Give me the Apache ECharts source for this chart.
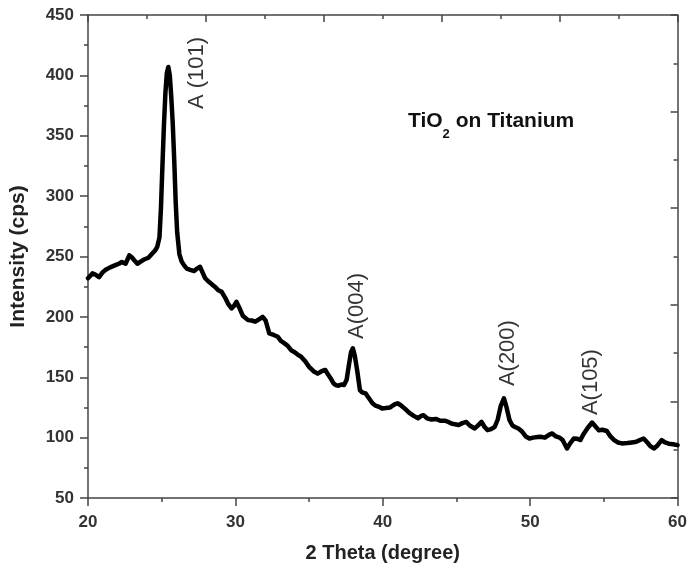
<!DOCTYPE html>
<html>
<head>
<meta charset="utf-8">
<script src="https://cdn.jsdelivr.net/npm/echarts@6/dist/echarts.min.js"></script>
<style>
  html, body { margin: 0; padding: 0; background: #fff; }
  #chart { width: 690px; height: 568px; }
</style>
</head>
<body>
<div id="chart"></div>
<script>
// 2 theta (degree)
var theta = [
  20.0, 20.3, 20.5, 20.75, 21.0, 21.2, 21.5, 21.9, 22.1, 22.3, 22.55, 22.8, 23.0, 23.2, 23.35, 23.6, 23.8, 24.1, 24.36, 24.55,
  24.7, 24.85, 24.95, 25.05, 25.15, 25.25, 25.35, 25.45, 25.55, 25.65, 25.75, 25.85, 25.95, 26.05, 26.2, 26.35, 26.5, 26.7, 26.94, 27.2,
  27.4, 27.6, 27.8, 27.95, 28.2, 28.4, 28.6, 28.85, 29.07, 29.3, 29.5, 29.74, 29.9, 30.07, 30.25, 30.5, 30.86, 31.1, 31.35, 31.6,
  31.85, 32.05, 32.3, 32.6, 32.88, 33.1, 33.33, 33.55, 33.78, 34.0, 34.2, 34.46, 34.75, 35.0, 35.3, 35.58, 35.85, 36.1, 36.3, 36.47,
  36.65, 36.8, 37.0, 37.2, 37.37, 37.55, 37.7, 37.85, 37.97, 38.1, 38.27, 38.45, 38.6, 38.83, 39.1, 39.3, 39.5, 39.75, 39.95, 40.2,
  40.5, 40.8, 41.0, 41.2, 41.5, 41.8, 42.1, 42.4, 42.6, 42.76, 43.0, 43.3, 43.6, 43.9, 44.2, 44.45, 44.66, 44.9, 45.15, 45.4,
  45.67, 45.9, 46.24, 46.45, 46.7, 46.9, 47.1, 47.35, 47.6, 47.8, 48.0, 48.22, 48.4, 48.6, 48.8, 48.94, 49.2, 49.45, 49.7, 49.95,
  50.2, 50.5, 50.7, 51.0, 51.3, 51.5, 51.75, 52.0, 52.2, 52.5, 52.7, 52.97, 53.2, 53.4, 53.65, 53.9, 54.2, 54.45, 54.66, 54.9,
  55.2, 55.45, 55.7, 55.95, 56.23, 56.6, 56.9, 57.2, 57.45, 57.7, 57.95, 58.15, 58.4, 58.6, 58.92, 59.15, 59.4, 59.7, 60.0
];
// Intensity (cps)
var intensity = [
  232, 236, 235, 233, 237, 239, 241, 243, 244, 245.5, 244, 251, 249, 246, 244, 246, 247.5, 249, 252.5, 255,
  258, 266, 290, 325, 358, 385, 402, 407, 400, 382, 360, 330, 295, 270, 252, 246, 243, 240, 239, 238,
  240, 241.5, 236, 232, 229, 227, 225, 222, 220.7, 216, 211, 207, 209, 212.5, 208, 201, 197.3, 197, 196, 198,
  200, 197, 186.3, 185, 183.5, 180, 178, 176, 172.4, 171, 169, 167, 163, 158.6, 155, 153, 155, 156, 152, 149,
  145, 143.5, 143, 144, 143.5, 148, 160, 171, 174, 168, 155, 139.3, 137.5, 136.6, 132, 128.5, 126.5, 125.5, 124.2, 124.5,
  125, 127.5, 128.5, 127, 124, 120.5, 118, 116, 118, 118.6, 116, 115, 115.5, 114, 114, 113, 111.7, 111, 110.5, 112,
  113, 110, 107.6, 110, 113, 109, 106.2, 107, 109, 115, 126, 132.5, 125, 114.5, 110, 109, 107.5, 105, 101, 99.3,
  100, 100.5, 100.7, 100, 102.5, 103.5, 101, 100, 98, 91, 95, 99.3, 99, 98, 103.5, 108, 112.5, 109, 106, 106.5,
  105.5, 101, 98, 96, 95.2, 95.5, 96, 96.5, 98, 99.3, 96, 93, 91, 93, 98, 96, 95, 94.5, 93.8
];

// peak labels: name, 2theta, intensity (label centre)
var peakNames = ['A (101)', 'A(004)', 'A(200)', 'A(105)'];
var peakTheta = [27.4, 38.25, 48.5, 54.1];
var peakY = [402, 209, 170, 146];

var lineData = [];
for (var i = 0; i < theta.length; i++) {
  lineData.push([theta[i], intensity[i]]);
}
var peakData = [];
for (var j = 0; j < peakNames.length; j++) {
  peakData.push({ name: peakNames[j], value: [peakTheta[j], peakY[j]] });
}

var axisColor = '#444';
var font = 'Liberation Sans, Arial, sans-serif';

var chart = echarts.init(document.getElementById('chart'));
var option = {
  animation: false,
  backgroundColor: '#fff',
  grid: { left: 87, right: 9, top: 15, bottom: 70, containLabel: false },
  xAxis: [
    {
      type: 'value',
      min: 20, max: 60, interval: 10,
      position: 'bottom',
      name: '2 Theta (degree)',
      nameLocation: 'middle',
      nameGap: 45,
      nameTextStyle: { fontFamily: font, fontWeight: 'bold', fontSize: 20, color: '#222' },
      axisLine: { lineStyle: { color: axisColor, width: 1.5 } },
      axisTick: { inside: false, length: 8, lineStyle: { color: axisColor, width: 1.5 } },
      minorTick: { show: true, splitNumber: 2, length: 4, lineStyle: { color: axisColor, width: 1.5 } },
      axisLabel: { margin: 16, fontFamily: font, fontWeight: 'bold', fontSize: 17, color: '#333' },
      splitLine: { show: false }
    },
    {
      type: 'value',
      min: 20, max: 60, interval: 8,
      position: 'top',
      axisLine: { lineStyle: { color: axisColor, width: 1.5 } },
      axisTick: { inside: true, length: 7, lineStyle: { color: axisColor, width: 1.5 } },
      minorTick: { show: true, splitNumber: 2, length: 4, lineStyle: { color: axisColor, width: 1.5 } },
      axisLabel: { show: false },
      splitLine: { show: false }
    }
  ],
  yAxis: [
    {
      type: 'value',
      min: 50, max: 450, interval: 50,
      position: 'left',
      name: 'Intensity (cps)',
      nameLocation: 'middle',
      nameGap: 59,
      nameTextStyle: { fontFamily: font, fontWeight: 'bold', fontSize: 21, color: '#222' },
      axisLine: { show: true, lineStyle: { color: axisColor, width: 1.5 } },
      axisTick: { show: true, inside: false, length: 8, lineStyle: { color: axisColor, width: 1.5 } },
      minorTick: { show: true, splitNumber: 2, length: 4, lineStyle: { color: axisColor, width: 1.5 } },
      axisLabel: { margin: 14, fontFamily: font, fontWeight: 'bold', fontSize: 17, color: '#333' },
      splitLine: { show: false }
    },
    {
      type: 'value',
      min: 50, max: 450, interval: 80,
      position: 'right',
      axisLine: { show: true, lineStyle: { color: axisColor, width: 1.5 } },
      axisTick: { show: true, inside: true, length: 7, lineStyle: { color: axisColor, width: 1.5 } },
      minorTick: { show: true, splitNumber: 2, length: 4, lineStyle: { color: axisColor, width: 1.5 } },
      axisLabel: { show: false },
      splitLine: { show: false }
    }
  ],
  series: [
    {
      name: 'TiO2 on Titanium',
      type: 'line',
      xAxisIndex: 0,
      yAxisIndex: 0,
      data: lineData,
      showSymbol: false,
      smooth: false,
      lineStyle: { color: '#000', width: 4.5, join: 'round', cap: 'round' },
      markPoint: {
        symbol: 'circle',
        symbolSize: 0,
        label: {
          show: true,
          position: 'inside',
          formatter: '{b|TiO}{sub|2}{b| on Titanium}',
          rich: {
            b: { fontFamily: font, fontWeight: 'bold', fontSize: 21, color: '#111', lineHeight: 24, verticalAlign: 'middle' },
            sub: { fontFamily: font, fontWeight: 'bold', fontSize: 13, color: '#111', lineHeight: 40, verticalAlign: 'bottom' }
          }
        },
        data: [{ name: 'title', coord: [47.35, 362] }]
      }
    },
    {
      name: 'peaks',
      type: 'scatter',
      xAxisIndex: 0,
      yAxisIndex: 0,
      data: peakData,
      symbolSize: 0,
      label: {
        show: true,
        position: 'inside',
        rotate: 90,
        formatter: '{b}',
        fontFamily: font,
        fontSize: 22,
        color: '#000'
      }
    }
  ]
};
chart.setOption(option);
</script>
</body>
</html>
